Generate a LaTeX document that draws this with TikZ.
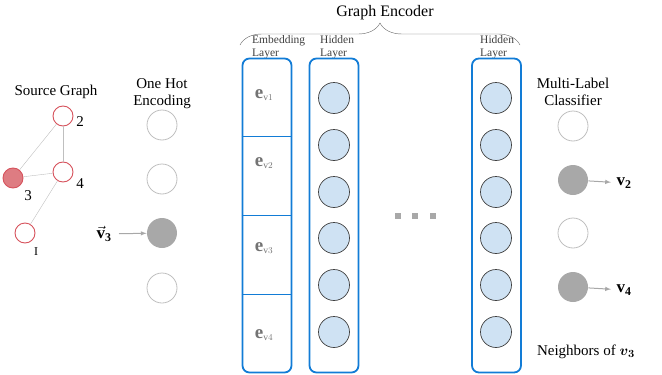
\documentclass[tikz,border=0pt]{standalone}
\usepackage{amsmath}
\usepackage{fontspec}
\setmainfont{Liberation Serif}
\usepackage{tikz}
\usetikzlibrary{shapes, arrows.meta, positioning, calc,
  decorations.pathreplacing}
\definecolor{nodered}{RGB}{214,82,92}
\definecolor{redfill}{RGB}{222,124,130}
\definecolor{hotgray}{RGB}{168,168,168}
\definecolor{layerblue}{RGB}{18,124,214}
\definecolor{cellblue}{RGB}{207,226,243}
\tikzstyle{gnode}=[draw=nodered,circle,line width=0.9pt,minimum size=20pt,inner sep=0pt]
\tikzstyle{unit}=[draw=black!25,circle,line width=0.8pt,minimum size=30pt,inner sep=0pt]
\tikzstyle{hot}=[unit,draw=none,fill=hotgray]
\tikzstyle{hidden}=[draw=black!75,fill=cellblue,circle,line width=0.7pt,minimum size=31pt,inner sep=0pt]
\tikzstyle{layer}=[draw=layerblue,rectangle,rounded corners=7pt,line width=1.8pt,minimum width=49pt,minimum height=314pt,inner sep=0pt]
\tikzstyle{title}=[font=\fontsize{15}{17}\selectfont,align=center]
\tikzstyle{small}=[font=\fontsize{11.5}{13}\selectfont,align=left,text=black!75,inner sep=0pt]
\tikzstyle{every node}=[font=\fontsize{15}{17}\selectfont]

\begin{document}
\begin{tikzpicture}[x=1pt,y=-1pt,>=latex]
    \useasboundingbox (0,0) rectangle (662,375);
    % source graph
    \node[title] (srctitle) at (56,92) {Source Graph};
    \node[gnode] (g2) at (63,116) {};
    \node[gnode] (g4) at (63,172) {};
    \node[gnode,fill=redfill] (g3) at (13,178) {};
    \node[gnode] (g1) at (25,233) {};
    \node (l2) at (80,122) {2};
    \node (l4) at (80,184) {4};
    \node (l3) at (28,196) {3};
    \node[font=\fontsize{12}{14}\selectfont] (l1) at (36,252) {I};
    \draw[black!25] (g2) -- (g3);
    \draw[black!25] (g2) -- (g4);
    \draw[black!25] (g3) -- (g4);
    \draw[black!25] (g4) -- (g1);
    % one hot input
    \node[title] (ohtitle) at (162,93.5) {One Hot\\Encoding};
    \foreach \i/\y in {1/125,2/179,4/288}
      \node[unit] (oh\i) at (162,\y) {};
    \node[hot] (oh3) at (162,233) {};
    \node[font=\fontsize{17}{19}\selectfont] (vin) at (104,234) {$\vec{\mathbf{v}}_{\mathbf{3}}$};
    \draw[->,hotgray,line width=1pt,shorten <=4pt] (vin) -- (oh3);
    % encoder
    \node[title,font=\fontsize{16}{18}\selectfont] (enctitle) at (385,13) {Graph Encoder};
    \coordinate (brl) at (240,45);
    \coordinate (brr) at (520,45);
    \draw[black!60,decorate,decoration={brace,amplitude=22pt}] (brl) -- (brr);
    \node[small,anchor=west] (embtitle) at (252,47) {Embedding\\Layer};
    \node[small,anchor=west] (hidtitleA) at (320,47) {Hidden\\Layer};
    \node[small,anchor=west] (hidtitleB) at (480,47) {Hidden\\Layer};
    \node[layer] (emb) at (267,215.5) {};
    \foreach \f in {0.25,0.5,0.75}
      \draw[layerblue,line width=1.2pt] ($(emb.north west)!\f!(emb.south west)$) -- ($(emb.north east)!\f!(emb.south east)$);
    \foreach \i/\y in {1/95,2/163,3/248,4/335}
      \node[text=black!55,font=\fontsize{19}{21}\selectfont] (e\i) at (264,\y) {$\mathbf{e}_{\scriptscriptstyle\mathrm{v}\i}$};
    \node[layer] (hidA) at (334,215.5) {};
    \node[layer] (hidB) at (496.5,215.5) {};
    \foreach \i/\y in {1/98,2/145,3/192,4/238,5/285,6/332} {
      \node[hidden] (ha\i) at (334,\y) {};
      \node[hidden] (hb\i) at (496,\y) {};
    }
    \foreach \i/\x in {1/398,2/415,3/433}
      \node[fill=hotgray,minimum size=6pt,inner sep=0pt] (dot\i) at (\x,216) {};
    % classifier output
    \node[title] (outtitle) at (573,92) {Multi-Label\\Classifier};
    \node[unit] (out1) at (573,126) {};
    \node[hot] (out2) at (573,180) {};
    \node[unit] (out3) at (573,233) {};
    \node[hot] (out4) at (573,287) {};
    \node[font=\fontsize{17}{19}\selectfont] (v2) at (624,183) {$\mathbf{v}_{\mathbf{2}}$};
    \node[font=\fontsize{17}{19}\selectfont] (v4) at (624,290) {$\mathbf{v}_{\mathbf{4}}$};
    \draw[->,hotgray,line width=1pt,shorten >=2pt] (out2) -- (v2);
    \draw[->,hotgray,line width=1pt,shorten >=2pt] (out4) -- (v4);
    \node[title] (nbr) at (586,352) {Neighbors of $\boldsymbol{v}_{\boldsymbol{3}}$};
\end{tikzpicture}
\end{document}
